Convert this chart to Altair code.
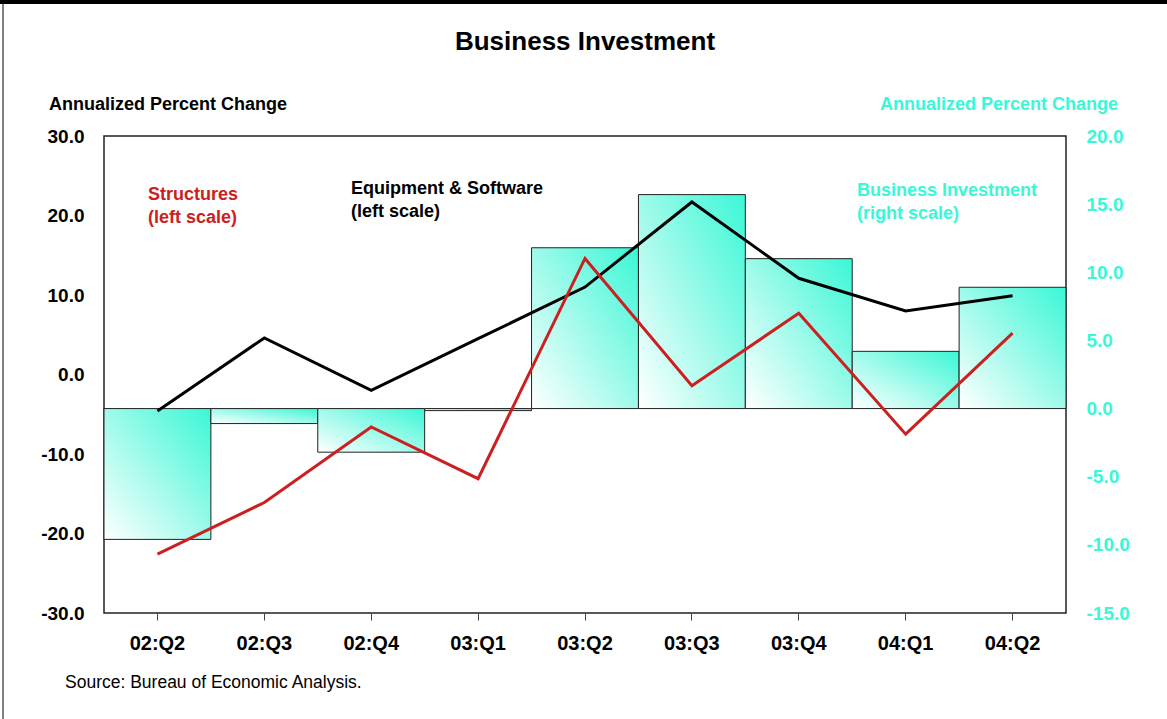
import altair as alt
import pandas as pd

quarters = ["02:Q2", "02:Q3", "02:Q4", "03:Q1", "03:Q2", "03:Q3", "03:Q4", "04:Q1", "04:Q2"]
business_investment = [-9.6, -1.1, -3.2, -0.15, 11.8, 15.7, 11.0, 4.2, 8.9]
equipment_software = [-4.6, 4.6, -2.0, 4.5, 11.0, 21.7, 12.1, 8.0, 9.9]
structures = [-22.6, -16.1, -6.6, -13.1, 14.6, -1.4, 7.7, -7.5, 5.2]
left_ticks = [-30, -20, -10, 0, 10, 20, 30]
right_ticks = [-15, -10, -5, 0, 5, 10, 15, 20]

df = pd.DataFrame({
    "quarter": quarters,
    "bi": business_investment,
    "es": equipment_software,
    "st": structures,
})

FONT = "Liberation Sans"
CYAN = "#3AF7D6"
RED = "#CC2020"

W, H = 962, 477
LABEL_EXPR = "(datum.value < 0 ? '-' : '') + format(abs(datum.value), '.1f')"

x_enc = alt.X(
    "quarter:N", sort=quarters,
    scale=alt.Scale(paddingInner=0, paddingOuter=0),
    axis=alt.Axis(title=None, labelAngle=0, labelFont=FONT, labelFontWeight="bold",
                  labelFontSize=20, labelColor="black", labelPadding=13,
                  tickSize=7, tickColor="#444", tickWidth=1, domain=False, grid=False),
)

bars = alt.Chart(df).mark_bar(
    fill=alt.Gradient(
        gradient="linear",
        stops=[alt.GradientStop(color="#ffffff", offset=0),
               alt.GradientStop(color="#a8fbec", offset=0.45),
               alt.GradientStop(color=CYAN, offset=1)],
        x1=0, y1=1, x2=1, y2=0),
    stroke="#222", strokeWidth=1,
).encode(
    x=x_enc,
    y=alt.Y("bi:Q", scale=alt.Scale(domain=[-15, 20], nice=False, zero=False),
            axis=alt.Axis(orient="right", values=right_ticks, labelExpr=LABEL_EXPR, title=None,
                          labelFont=FONT, labelFontWeight="bold", labelFontSize=19,
                          labelColor=CYAN, labelPadding=20, ticks=False, domain=False,
                          grid=False)),
)

left_axis = alt.Axis(orient="left", values=left_ticks, labelExpr=LABEL_EXPR, title=None,
                     labelFont=FONT, labelFontWeight="bold", labelFontSize=19,
                     labelColor="black", labelPadding=20, ticks=False, domain=False,
                     grid=False)
left_scale = alt.Scale(domain=[-30, 30], nice=False, zero=False)

line_es = alt.Chart(df).mark_line(color="black", strokeWidth=3).encode(
    x=alt.X("quarter:N", sort=quarters),
    y=alt.Y("es:Q", scale=left_scale, axis=left_axis),
)
line_st = alt.Chart(df).mark_line(color=RED, strokeWidth=3).encode(
    x=alt.X("quarter:N", sort=quarters),
    y=alt.Y("st:Q", scale=left_scale, axis=left_axis),
)
lines = alt.layer(line_es, line_st)


def label(text, x, y, color="black", size=18, weight="bold", align="left"):
    return alt.Chart(alt.Data(values=[{}])).mark_text(
        text=text, font=FONT, fontSize=size, fontWeight=weight, color=color,
        align=align, baseline="middle",
    ).encode(x=alt.value(x), y=alt.value(y))


frame_top = alt.Chart(alt.Data(values=[{}])).mark_rect(color="black").encode(
    x=alt.value(-104), x2=alt.value(1063), y=alt.value(-136), y2=alt.value(-132))
frame_left = alt.Chart(alt.Data(values=[{}])).mark_rule(color="#808080", strokeWidth=2).encode(
    x=alt.value(-101), y=alt.value(-132), y2=alt.value(583))

texts = [
    label("Business Investment", 481, -94, size=26, align="center"),
    label("Annualized Percent Change", -55, -31),
    label("Annualized Percent Change", 1014, -31, color=CYAN, align="right"),
    label("Structures", 44, 59, color=RED),
    label("(left scale)", 44, 82, color=RED),
    label("Equipment & Software", 247, 53),
    label("(left scale)", 247, 76),
    label("Business Investment", 753, 55, color=CYAN),
    label("(right scale)", 753, 78, color=CYAN),
    label("Source: Bureau of Economic Analysis.", -39, 547, size=17.5, weight="normal"),
]

chart = alt.layer(bars, lines, frame_top, frame_left, *texts).resolve_scale(
    y="independent"
).properties(
    width=W, height=H,
    autosize=alt.AutoSizeParams(type="none"),
    padding={"left": 104, "top": 136, "right": 1167 - 104 - W, "bottom": 719 - 136 - H},
    background="white",
).configure_view(stroke="#222", strokeWidth=1.5)

chart.save("out.html", embed_options={"renderer": "svg", "actions": False})
